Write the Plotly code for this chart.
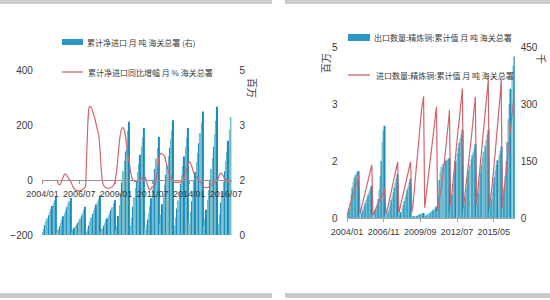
import plotly.graph_objects as go

# ---------------- data ----------------
# Left panel: cumulative net import (million t, right axis) 2004/01-2016/11
net_import = [
    0.08, 0.17, 0.27, 0.36, 0.45, 0.54, 0.62, 0.71, 0.79, 0.87, 0.95, 1.04,  # 2004
    0.07, 0.15, 0.24, 0.33, 0.42, 0.51, 0.59, 0.67, 0.76, 0.84, 0.92, 1.01,  # 2005
    0.07, 0.14, 0.20, 0.25, 0.29, 0.33, 0.38, 0.45, 0.53, 0.60, 0.68, 0.77,  # 2006
    0.08, 0.16, 0.26, 0.37, 0.47, 0.57, 0.66, 0.75, 0.83, 0.91, 0.99, 1.08,  # 2007
    0.09, 0.17, 0.25, 0.32, 0.40, 0.46, 0.53, 0.60, 0.68, 0.76, 0.85, 0.95,  # 2008
    0.12, 0.25, 0.52, 0.81, 1.12, 1.43, 1.74, 2.02, 2.28, 2.56, 2.84, 3.09,  # 2009
    0.26, 0.48, 0.77, 1.03, 1.28, 1.50, 1.72, 1.95, 2.19, 2.42, 2.66, 2.92,  # 2010
    0.15, 0.28, 0.42, 0.58, 0.78, 1.00, 1.25, 1.52, 1.80, 2.08, 2.37, 2.68,  # 2011
    0.30, 0.55, 0.84, 1.10, 1.37, 1.64, 1.90, 2.14, 2.37, 2.61, 2.86, 3.13,  # 2012
    0.26, 0.47, 0.72, 0.94, 1.17, 1.40, 1.63, 1.88, 2.14, 2.39, 2.65, 2.92,  # 2013
    0.33, 0.62, 0.92, 1.20, 1.48, 1.72, 1.99, 2.24, 2.50, 2.78, 3.07, 3.37,  # 2014
    0.24, 0.44, 0.69, 0.96, 1.22, 1.50, 1.80, 2.09, 2.41, 2.74, 3.11, 3.50,  # 2015
    0.29, 0.57, 0.88, 1.16, 1.45, 1.74, 2.01, 2.28, 2.57, 2.88, 3.22,        # 2016
]
# Left panel: YoY growth of cumulative net import (%), 2005/01-2016/11
net_import_yoy = [
    -3, -15, -18, -12, 0, 12, 20, 22, 15, 8, 2, -5,            # 2005
    -15, -25, -32, -36, -38, -40, -40, -38, -36, -33, -30, -25,  # 2006
    80, 200, 262, 268, 262, 250, 235, 220, 200, 180, 165, 110,   # 2007
    40, -5, -20, -26, -28, -30, -30, -29, -27, -25, -20, -10,    # 2008
    15, 50, 100, 145, 175, 188, 190, 180, 155, 120, 80, 62,      # 2009
    30, 10, 0, -4, -5, -4, -2, 0, 3, 6, 10, 12,                  # 2010
    10, -5, -20, -33, -36, -30, -25, -20, -18, 5, 40, 75,        # 2011
    92, 97, 95, 90, 85, 65, 45, 30, 18, 8, 0, -5,                # 2012
    -8, -9, -8, -8, -9, -8, -7, -5, 10, 30, 45, 55,              # 2013
    67, 62, 50, 35, 22, 18, 12, 6, 0, -8, -12, -18,              # 2014
    -25, -28, -28, -27, -26, -24, -20, -12, -8, -7, -5, -2,      # 2015
    10, 22, 25, 20, 12, 5, 0, -3, -5, -7, -8,                    # 2016
]
# Right panel: cumulative refined copper export (thousand t, right axis) 2004/01-2016/12
export_cum = [
    8, 15, 24, 40, 62, 80, 95, 105, 112, 117, 121, 124,          # 2004
    6, 12, 18, 25, 32, 40, 48, 55, 62, 70, 77, 84,               # 2005
    8, 15, 22, 30, 38, 50, 75, 110, 150, 200, 230, 243,          # 2006
    5, 10, 18, 28, 38, 48, 58, 68, 80, 92, 104, 115,             # 2007
    4, 8, 15, 25, 35, 45, 55, 65, 75, 85, 95, 103,               # 2008
    1, 2, 3, 4, 5, 6, 8, 9, 10, 11, 12, 13,                      # 2009
    2, 4, 7, 9, 12, 14, 17, 19, 21, 24, 27, 30,                  # 2010
    20, 60, 100, 122, 135, 142, 147, 150, 152, 154, 156, 158,    # 2011
    15, 35, 60, 90, 120, 150, 170, 185, 198, 210, 222, 232,      # 2012
    12, 30, 55, 80, 105, 125, 140, 155, 165, 175, 185, 195,      # 2013
    10, 35, 65, 95, 120, 140, 160, 175, 190, 205, 220, 232,      # 2014
    12, 30, 50, 70, 90, 108, 125, 140, 152, 165, 177, 188,       # 2015
    25, 50, 80, 110, 150, 200, 260, 300, 340, 370, 400, 425,     # 2016
]
# Right panel: cumulative refined copper import (million t, left axis) 2004/01-2016/12
import_cum = [
    0.08, 0.17, 0.27, 0.37, 0.47, 0.57, 0.66, 0.76, 0.85, 0.94, 1.03, 1.13,  # 2004
    0.10, 0.21, 0.33, 0.45, 0.57, 0.69, 0.81, 0.93, 1.05, 1.17, 1.28, 1.40,  # 2005
    0.07, 0.13, 0.19, 0.25, 0.30, 0.35, 0.41, 0.48, 0.55, 0.63, 0.71, 0.79,  # 2006
    0.09, 0.19, 0.31, 0.44, 0.57, 0.70, 0.83, 0.96, 1.09, 1.22, 1.35, 1.48,  # 2007
    0.13, 0.25, 0.37, 0.48, 0.60, 0.71, 0.82, 0.93, 1.05, 1.18, 1.33, 1.48,  # 2008
    0.14, 0.30, 0.61, 0.95, 1.30, 1.66, 1.99, 2.29, 2.56, 2.82, 3.01, 3.20,  # 2009
    0.27, 0.50, 0.79, 1.05, 1.30, 1.52, 1.75, 1.98, 2.22, 2.45, 2.68, 2.93,  # 2010
    0.17, 0.33, 0.50, 0.70, 0.92, 1.15, 1.40, 1.68, 1.97, 2.24, 2.52, 2.84,  # 2011
    0.32, 0.58, 0.90, 1.18, 1.48, 1.78, 2.06, 2.32, 2.57, 2.83, 3.10, 3.41,  # 2012
    0.27, 0.50, 0.76, 1.00, 1.25, 1.50, 1.76, 2.04, 2.32, 2.59, 2.88, 3.19,  # 2013
    0.34, 0.64, 0.96, 1.27, 1.57, 1.84, 2.13, 2.40, 2.68, 2.98, 3.30, 3.63,  # 2014
    0.25, 0.46, 0.72, 1.00, 1.27, 1.56, 1.87, 2.17, 2.50, 2.84, 3.22, 3.63,  # 2015
    0.28, 0.55, 0.85, 1.12, 1.40, 1.68, 1.93, 2.18, 2.45, 2.72, 2.98, 3.25,  # 2016
]

all_months = [f"{y}/{m:02d}" for y in range(2004, 2017) for m in range(1, 13)]
months_left = all_months[:len(net_import)]
months_left_yoy = months_left[12:12 + len(net_import_yoy)]
months_right = all_months[:len(export_cum)]

left_ticks = ["2004/01", "2006/07", "2009/01", "2011/07", "2014/01", "2016/07"]
right_ticks = ["2004/01", "2006/11", "2009/09", "2012/07", "2015/05"]

left_bar_name = "累计净进口 月 吨 海关总署 (右)"
left_line_name = "累计净进口同比增幅 月 % 海关总署"
right_bar_name = "出口数量:精炼铜:累计值 月 吨 海关总署"
right_line_name = "进口数量:精炼铜:累计值 月 吨 海关总署"

# ---------------- style ----------------
LIGHT = "#76bdcc"
DARK = "#168dbd"
RED = "#d0656c"
TXT = "#3a3a3a"
NUMFONT = "Liberation Sans, Arial, sans-serif"
CJK = "Noto Sans CJK SC, sans-serif"
W, H = 550, 300


def px(x):
    return x / W


def py(y):
    return 1 - y / H


def colors(n):
    return [DARK if i % 3 == 2 else LIGHT for i in range(n)]


fig = go.Figure()

fig.add_trace(go.Bar(x=months_left, y=net_import, xaxis="x", yaxis="y",
                     marker=dict(color=colors(len(net_import)), line=dict(width=0)),
                     name=left_bar_name, showlegend=False))
fig.add_trace(go.Scatter(x=months_left_yoy, y=net_import_yoy, xaxis="x", yaxis="y2",
                         mode="lines", line=dict(color=RED, width=1.2, shape="spline", smoothing=0.6),
                         name=left_line_name, showlegend=False))
fig.add_trace(go.Bar(x=months_right, y=export_cum, xaxis="x2", yaxis="y3",
                     marker=dict(color=colors(len(export_cum)), line=dict(width=0)),
                     name=right_bar_name, showlegend=False))
fig.add_trace(go.Scatter(x=months_right, y=import_cum, xaxis="x2", yaxis="y4",
                         mode="lines", line=dict(color=RED, width=1.2),
                         name=right_line_name, showlegend=False))

yfont = dict(family=NUMFONT, size=10, color=TXT)
xfont = dict(family=NUMFONT, size=9, color=TXT)

fig.update_layout(
    width=W, height=H,
    margin=dict(l=0, r=0, t=0, b=0, pad=0, autoexpand=False),
    paper_bgcolor="white", plot_bgcolor="rgba(0,0,0,0)",
    bargap=0.08,
    showlegend=False,
    xaxis=dict(domain=[px(41.9), px(231.5)], type="category",
               categoryorder="array", categoryarray=months_left,
               range=[-0.5, len(months_left) - 0.5],
               anchor="free", position=py(180), automargin=False,
               tickmode="array", tickvals=left_ticks, ticktext=left_ticks, tickangle=0,
               showline=True, linecolor="#9c9096", linewidth=1,
               ticks="outside", ticklen=3, tickcolor="#9c9096",
               showgrid=False, zeroline=False, tickfont=xfont, ticklabelstandoff=2),
    yaxis=dict(domain=[py(235), py(70)], range=[0, 4.5], side="right", anchor="x",
               automargin=False,
               tickmode="array", tickvals=[0, 1.5, 3, 4.5], ticktext=["0", "2", "3", "5"],
               showgrid=False, zeroline=False, showline=False, ticks="",
               tickfont=yfont, ticklabelstandoff=7),
    yaxis2=dict(overlaying="y", range=[-200, 400], side="left", anchor="x",
                automargin=False,
                tickmode="array", tickvals=[-200, 0, 200, 400],
                showgrid=False, zeroline=False, showline=False, ticks="",
                tickfont=yfont, ticklabelstandoff=8),
    xaxis2=dict(domain=[px(346.5), px(514.7)], type="category",
                categoryorder="array", categoryarray=months_right,
                range=[-0.5, len(months_right) - 0.5],
                anchor="y3", automargin=False,
                tickmode="array", tickvals=right_ticks, ticktext=right_ticks, tickangle=0,
                showline=True, linecolor="#a9a9a9", linewidth=1,
                ticks="outside", ticklen=3, tickcolor="#a9a9a9",
                showgrid=False, zeroline=False, tickfont=xfont, ticklabelstandoff=2),
    yaxis3=dict(domain=[py(218), py(47)], range=[0, 450], side="right", anchor="x2",
                automargin=False,
                tickmode="array", tickvals=[0, 150, 300, 450],
                showgrid=False, zeroline=False, showline=False, ticks="",
                tickfont=yfont, ticklabelstandoff=5),
    yaxis4=dict(overlaying="y3", range=[0, 4.5], side="left", anchor="x2",
                automargin=False,
                tickmode="array", tickvals=[0, 1.5, 3, 4.5], ticktext=["0", "2", "3", "5"],
                showgrid=False, zeroline=False, showline=False, ticks="",
                tickfont=yfont, ticklabelstandoff=8),
)

GRAY = "#cbcbcb"
shapes = [
    dict(type="rect", xref="paper", yref="paper", x0=0, x1=px(272), y0=py(4), y1=1,
         fillcolor=GRAY, line=dict(width=0), layer="below"),
    dict(type="rect", xref="paper", yref="paper", x0=px(285), x1=1, y0=py(4), y1=1,
         fillcolor=GRAY, line=dict(width=0), layer="below"),
    dict(type="rect", xref="paper", yref="paper", x0=0, x1=px(272), y0=py(298), y1=py(293),
         fillcolor=GRAY, line=dict(width=0), layer="below"),
    dict(type="rect", xref="paper", yref="paper", x0=px(285), x1=1, y0=py(298), y1=py(293),
         fillcolor=GRAY, line=dict(width=0), layer="below"),
    # legend swatches
    dict(type="rect", xref="paper", yref="paper", x0=px(62), x1=px(83), y0=py(45), y1=py(39),
         fillcolor="#2a97c4", line=dict(width=0)),
    dict(type="line", xref="paper", yref="paper", x0=px(62), x1=px(83), y0=py(72), y1=py(72),
         line=dict(color=RED, width=1.3)),
    dict(type="rect", xref="paper", yref="paper", x0=px(348), x1=px(370), y0=py(41), y1=py(34),
         fillcolor="#2a97c4", line=dict(width=0)),
    dict(type="line", xref="paper", yref="paper", x0=px(348), x1=px(370), y0=py(75), y1=py(75),
         line=dict(color=RED, width=1.3)),
]

lfont = dict(family=CJK, size=8, color=TXT)
ufont = dict(family=CJK, size=10, color=TXT)
annotations = [
    dict(text=left_bar_name, x=px(85), y=py(42), xref="paper", yref="paper",
         xanchor="left", yanchor="middle", showarrow=False, font=lfont),
    dict(text=left_line_name, x=px(86), y=py(72), xref="paper", yref="paper",
         xanchor="left", yanchor="middle", showarrow=False, font=lfont),
    dict(text=right_bar_name, x=px(372), y=py(37.5), xref="paper", yref="paper",
         xanchor="left", yanchor="middle", showarrow=False, font=lfont),
    dict(text=right_line_name, x=px(374), y=py(75), xref="paper", yref="paper",
         xanchor="left", yanchor="middle", showarrow=False, font=lfont),
    dict(text="百万", x=px(253), y=py(88), xref="paper", yref="paper", textangle=90,
         xanchor="center", yanchor="middle", showarrow=False, font=ufont),
    dict(text="百万", x=px(326), y=py(63), xref="paper", yref="paper", textangle=-90,
         xanchor="center", yanchor="middle", showarrow=False, font=ufont),
    dict(text="千", x=px(542), y=py(59), xref="paper", yref="paper", textangle=90,
         xanchor="center", yanchor="middle", showarrow=False, font=ufont),
]
fig.update_layout(shapes=shapes, annotations=annotations)

fig.write_html("out.html")
